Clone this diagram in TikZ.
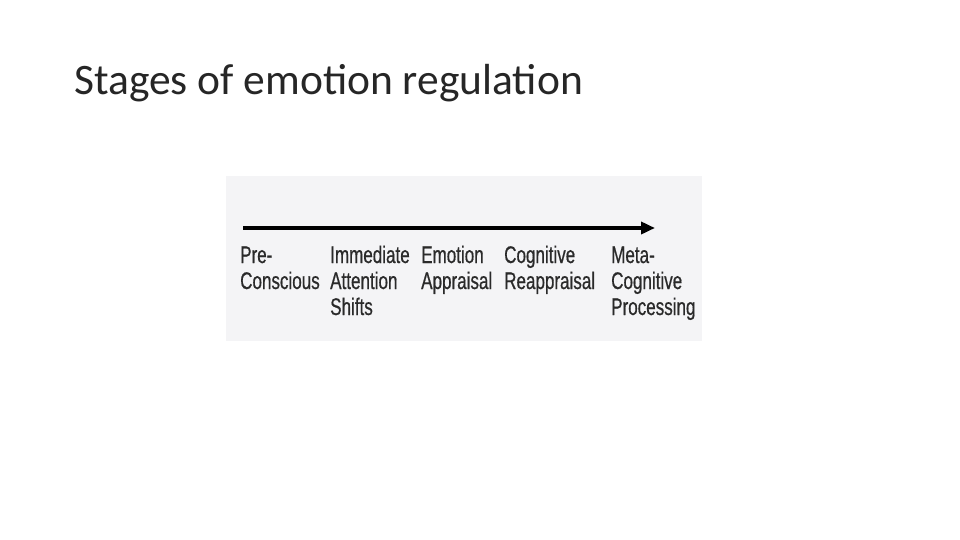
\documentclass[tikz,border=0pt]{standalone}
\usepackage{fontspec}
\setmainfont{Carlito}
\newfontfamily\labfont[FakeStretch=0.71,FakeBold=0.6]{Liberation Sans}
\usetikzlibrary{arrows.meta}
\definecolor{boxbg}{HTML}{F4F4F6}
\definecolor{labtxt}{HTML}{2A2A2A}
\newcommand{\stg}[1]{\begin{tabular}[t]{@{}l@{}}#1\end{tabular}}
\tikzset{
  stage/.style={anchor=base west, inner sep=0pt, text=labtxt,
    font=\labfont\fontsize{24}{26}\selectfont},
  title/.style={anchor=base west, inner sep=0pt, font=\fontsize{43.5}{50}\selectfont, text=black!85}
}
\begin{document}
\begin{tikzpicture}[x=1pt,y=-1pt]
\useasboundingbox (0,0) rectangle (960,540);
\node[title] (t) at (74,95) {Stages of emotion regulation};
\fill[boxbg] (226,176) rectangle (702,341);
\coordinate (as) at (243,228);
\coordinate (ae) at (655,228);
\draw[line width=3.5pt, -{Triangle[length=14pt,width=12pt]}] (as) -- (ae);
\node[stage] (s1) at (240,263) {\stg{Pre-\\Conscious}};
\node[stage] (s2) at (330,263) {\stg{Immediate\\Attention\\Shifts}};
\node[stage] (s3) at (421,263) {\stg{Emotion\\Appraisal}};
\node[stage] (s4) at (504,263) {\stg{Cognitive\\Reappraisal}};
\node[stage] (s5) at (611,263) {\stg{Meta-\\Cognitive\\Processing}};
\end{tikzpicture}
\end{document}
